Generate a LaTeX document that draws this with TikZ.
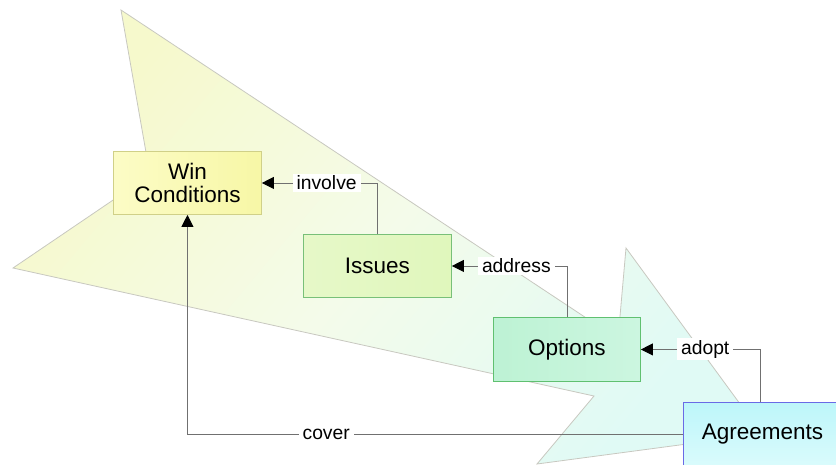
\documentclass[tikz,border=0pt]{standalone}
\usepackage{fontspec}
\setmainfont{Liberation Sans}
\usetikzlibrary{arrows.meta}

% palette
\definecolor{bgyellow}{HTML}{F6F9CC}
\definecolor{bgmint}{HTML}{F4FBEA}
\definecolor{bgcyan}{HTML}{E0FAF5}
\definecolor{bgedge}{HTML}{C8C8C0}
\definecolor{linegray}{HTML}{707070}
\definecolor{winfillA}{HTML}{F7F7A6}
\definecolor{winfillB}{HTML}{FCFCC6}
\definecolor{windraw}{HTML}{D0D088}
\definecolor{issfillA}{HTML}{E6F8C8}
\definecolor{issfillB}{HTML}{E0F7BC}
\definecolor{issdraw}{HTML}{78C078}
\definecolor{optfillA}{HTML}{BDF2D4}
\definecolor{optfillB}{HTML}{CCF6E0}
\definecolor{optdraw}{HTML}{60C070}
\definecolor{agrfillA}{HTML}{BDF6FA}
\definecolor{agrfillB}{HTML}{DAFBFC}
\definecolor{agrdraw}{HTML}{6A6AE6}

\begin{document}
\begin{tikzpicture}[x=1pt,y=-1pt,
  entity/.style={draw, line width=0.9pt, inner sep=0pt, anchor=north west,
    align=center, font=\fontsize{22.5}{23}\selectfont},
  rel/.style={draw=linegray, line width=0.9pt,
    -{Triangle[length=12pt,width=12pt,color=black]}},
  tag/.style={fill=white, inner xsep=4pt, inner ysep=2pt,
    font=\fontsize{19.3}{20}\selectfont}
]
\useasboundingbox (0,0) rectangle (836,464);
\clip (0,0) rectangle (836,464);

% background swoosh arrow
\draw[draw=bgedge, line width=0.8pt, top color=bgyellow, bottom color=bgcyan,
      middle color=bgmint, shading angle=50]
  (121,10) -- (618,339) -- (626,248) -- (762,434) -- (537,464)
  -- (594,396) -- (13,268) -- (150,175) -- cycle;

% entities
\node[entity, draw=windraw, left color=winfillB, right color=winfillA,
      minimum width=148pt, minimum height=63pt] (win) at (113,151) {Win\\Conditions};
\node[entity, draw=issdraw, left color=issfillA, right color=issfillB,
      minimum width=148pt, minimum height=63pt] (iss) at (303,234) {Issues};
\node[entity, draw=optdraw, left color=optfillA, right color=optfillB,
      minimum width=147pt, minimum height=64pt] (opt) at (493,317) {Options};
\node[entity, draw=agrdraw, top color=agrfillA, bottom color=agrfillB,
      minimum width=158pt, minimum height=64pt] (agr) at (683,402) {Agreements};

% relations
\draw[rel] (iss.north) |- node[tag, pos=0.72] {involve} (win.east);
\draw[rel] (opt.north) |- node[tag, pos=0.72] {address} (iss.east);
\draw[rel] (agr.north -| 760,0) |- node[tag, pos=0.73] {adopt} (opt.east);
\draw[rel] (agr.west) -| node[tag, pos=0.36] {cover} (win.south);
\end{tikzpicture}
\end{document}
